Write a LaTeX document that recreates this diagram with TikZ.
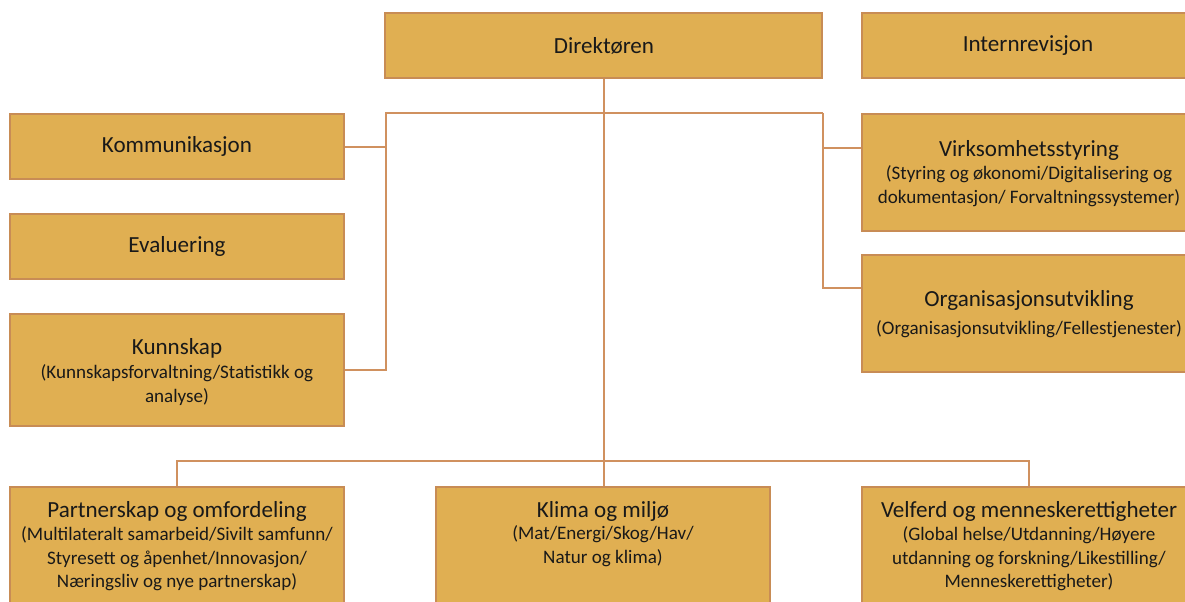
\documentclass[tikz,border=0pt]{standalone}
\usepackage{fontspec}
\setmainfont{Carlito}
\usetikzlibrary{calc,fit}
\definecolor{boxfill}{RGB}{224,175,82}
\definecolor{boxline}{RGB}{200,140,85}
\definecolor{connline}{RGB}{208,145,95}
\definecolor{txtc}{RGB}{25,25,25}
\newcommand{\mainf}{\fontsize{17.3}{21}\selectfont}
\newcommand{\subf}{\fontsize{14.3}{17.6}\selectfont}
\tikzset{
  bx/.style={draw=boxline, fill=boxfill, line width=1.4pt, inner sep=0pt, rectangle},
  ttl/.style={inner sep=0pt, align=center, text=txtc, font=\mainf},
  sub/.style={inner sep=0pt, align=center, text=txtc, font=\subf},
  conn/.style={draw=connline, line width=1.2pt}
}
\begin{document}
\begin{tikzpicture}[x=0.75pt,y=-0.75pt]
\useasboundingbox (0,0) rectangle (1185,601);
% boxes
\node[bx, fit={(385,13) (822,78)}] (dir) {};
\node[bx, fit={(862,13) (1196,78)}] (intern) {};
\node[bx, fit={(10,114) (344,179)}] (komm) {};
\node[bx, fit={(10,214) (344,279)}] (eval) {};
\node[bx, fit={(10,314) (344,426)}] (kunn) {};
\node[bx, fit={(862,114) (1196,231)}] (virk) {};
\node[bx, fit={(862,255) (1196,372)}] (org) {};
\node[bx, fit={(10,487) (344,610)}] (part) {};
\node[bx, fit={(436,487) (770,610)}] (klima) {};
\node[bx, fit={(862,487) (1196,610)}] (velf) {};
% texts
\node[ttl] (dirT) at (604,46) {Direktøren};
\node[ttl] (internT) at (1028,46) {Internrevisjon};
\node[ttl] (kommT) at (177,146) {Kommunikasjon};
\node[ttl] (evalT) at (177,246) {Evaluering};
\node[ttl] (kunnT) at (177,348) {Kunnskap};
\node[sub] (kunnS) at (177,385) {(Kunnskapsforvaltning/Statistikk og\\analyse)};
\node[ttl] (virkT) at (1029,150) {Virksomhetsstyring};
\node[sub] (virkS) at (1029,186) {(Styring og økonomi/Digitalisering og\\dokumentasjon/ Forvaltningssystemer)};
\node[ttl] (orgT) at (1029,300) {Organisasjonsutvikling};
\node[sub] (orgS) at (1029,329) {(Organisasjonsutvikling/Fellestjenester)};
\node[ttl] (partT) at (177,511) {Partnerskap og omfordeling};
\node[sub] (partS) at (177,559) {(Multilateralt samarbeid/Sivilt samfunn/\\Styresett og åpenhet/Innovasjon/\\Næringsliv og nye partnerskap)};
\node[ttl] (klimaT) at (603,511) {Klima og miljø};
\node[sub] (klimaS) at (603,546) {(Mat/Energi/Skog/Hav/\\Natur og klima)};
\node[ttl] (velfT) at (1029,511) {Velferd og menneskerettigheter};
\node[sub] (velfS) at (1029,559) {(Global helse/Utdanning/Høyere\\utdanning og forskning/Likestilling/\\Menneskerettigheter)};
% connectors
\coordinate (lt) at (386,113);
\coordinate (rt) at (823,113);
\coordinate (busY) at (604,461);
\draw[conn] (busY |- dir.south) -- (busY |- klima.north);
\draw[conn] (part.north) -- (part.north |- busY) -- (velf.north |- busY) -- (velf.north);
\draw[conn] ($(komm.north east)+(0,34)$) -| (lt) -- (rt);
\draw[conn] (kunn.east) -| (lt);
\draw[conn] ($(virk.north west)+(0,35)$) -| (rt);
\draw[conn] ($(org.north west)+(0,34)$) -| (rt);
\end{tikzpicture}
\end{document}
